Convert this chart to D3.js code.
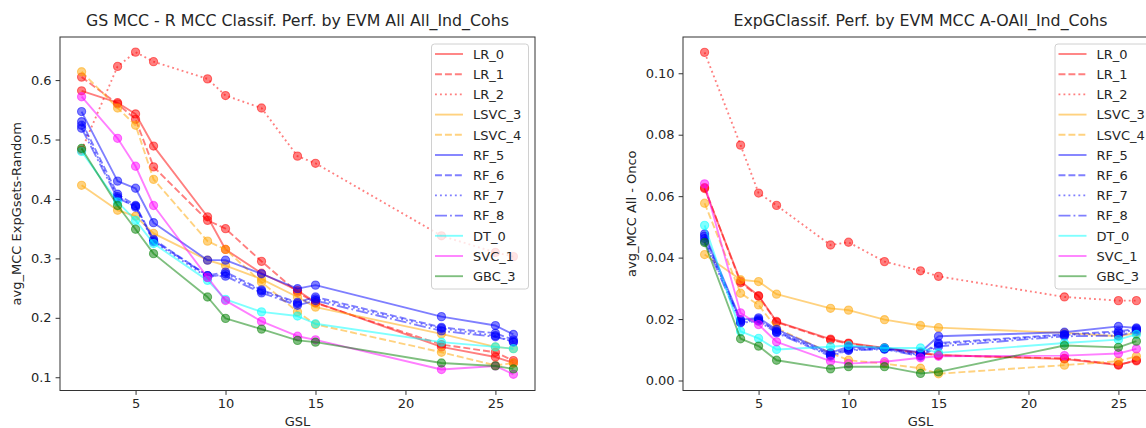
<!DOCTYPE html>
<html><head><meta charset="utf-8">
<script src="https://cdn.jsdelivr.net/npm/d3@7"></script>
<style>body{margin:0;background:#fff;} svg{display:block;} text{font-family:"DejaVu Sans",sans-serif;fill:#262626;}</style>
</head><body><svg id="c" width="1146" height="428"></svg>
<script>
const gsl = [2,4,5,6,9,10,12,14,15,22,25,26];
const seriesNames = ["LR_0","LR_1","LR_2","LSVC_3","LSVC_4","RF_5","RF_6","RF_7","RF_8","DT_0","SVC_1","GBC_3"];
const seriesColors = ["red","red","red","orange","orange","blue","blue","blue","blue","cyan","magenta","green"];
const seriesDash = ["solid","dashed","dotted","solid","dashed","solid","dashed","dotted","dashdot","solid","solid","solid"];

// Left panel: avg_MCC ExpGsets-Random
const leftLR_0   = [0.582,0.562,0.543,0.489,0.370,0.315,0.275,0.246,0.226,0.151,0.134,0.124];
const leftLR_1   = [0.605,0.560,0.534,0.454,0.364,0.350,0.295,0.243,0.225,0.155,0.142,0.128];
const leftLR_2   = [0.482,0.623,0.647,0.631,0.602,0.574,0.553,0.472,0.460,0.338,0.310,0.303];
const leftLSVC_3 = [0.423,0.381,0.371,0.342,0.297,0.288,0.265,0.235,0.218,0.173,0.151,0.148];
const leftLSVC_4 = [0.614,0.553,0.524,0.433,0.329,0.315,0.260,0.210,0.189,0.142,0.120,0.124];
const leftRF_5   = [0.547,0.430,0.418,0.360,0.297,0.297,0.274,0.249,0.255,0.202,0.187,0.172];
const leftRF_6   = [0.530,0.408,0.389,0.332,0.271,0.277,0.247,0.226,0.235,0.184,0.174,0.163];
const leftRF_7   = [0.524,0.404,0.386,0.328,0.268,0.274,0.245,0.224,0.232,0.182,0.170,0.159];
const leftRF_8   = [0.519,0.401,0.388,0.330,0.271,0.270,0.242,0.221,0.229,0.178,0.168,0.160];
const leftDT_0   = [0.480,0.395,0.364,0.325,0.263,0.231,0.210,0.203,0.190,0.159,0.151,0.148];
const leftSVC_1  = [0.572,0.502,0.455,0.389,0.268,0.229,0.194,0.169,0.163,0.113,0.119,0.105];
const leftGBC_3  = [0.485,0.389,0.349,0.308,0.235,0.199,0.181,0.162,0.159,0.124,0.119,0.114];

// Right panel: avg_MCC All - Onco
const rightLR_0   = [0.0625,0.0323,0.0276,0.0192,0.0135,0.0122,0.0106,0.0090,0.0083,0.0070,0.0050,0.0066];
const rightLR_1   = [0.0628,0.0318,0.0274,0.0190,0.0132,0.0120,0.0105,0.0088,0.0082,0.0072,0.0052,0.0064];
const rightLR_2   = [0.1068,0.0766,0.0610,0.0570,0.0441,0.0450,0.0387,0.0357,0.0339,0.0272,0.0260,0.0260];
const rightLSVC_3 = [0.0410,0.0328,0.0322,0.0281,0.0235,0.0229,0.0198,0.0179,0.0172,0.0155,0.0144,0.0155];
const rightLSVC_4 = [0.0577,0.0284,0.0246,0.0170,0.0090,0.0066,0.0055,0.0040,0.0022,0.0050,0.0063,0.0079];
const rightRF_5   = [0.0477,0.0198,0.0204,0.0166,0.0090,0.0110,0.0106,0.0092,0.0144,0.0157,0.0176,0.0171];
const rightRF_6   = [0.0470,0.0194,0.0200,0.0160,0.0085,0.0104,0.0104,0.0085,0.0122,0.0150,0.0160,0.0168];
const rightRF_7   = [0.0462,0.0190,0.0196,0.0158,0.0082,0.0100,0.0103,0.0082,0.0118,0.0148,0.0155,0.0165];
const rightRF_8   = [0.0453,0.0188,0.0193,0.0155,0.0079,0.0098,0.0102,0.0079,0.0111,0.0144,0.0146,0.0160];
const rightDT_0   = [0.0505,0.0160,0.0137,0.0101,0.0110,0.0114,0.0106,0.0106,0.0090,0.0122,0.0133,0.0150];
const rightSVC_1  = [0.0640,0.0220,0.0182,0.0126,0.0063,0.0055,0.0061,0.0074,0.0079,0.0081,0.0088,0.0103];
const rightGBC_3  = [0.0449,0.0136,0.0112,0.0066,0.0038,0.0045,0.0045,0.0023,0.0028,0.0114,0.0108,0.0128];

const xTicks = [5,10,15,20,25];
const leftYTicks = [0.1,0.2,0.3,0.4,0.5,0.6];
const rightYTicks = [0.00,0.02,0.04,0.06,0.08,0.10];

const leftTitle = "GS MCC - R MCC Classif. Perf. by EVM All All_Ind_Cohs";
const rightTitle = "ExpGClassif. Perf. by EVM MCC A-OAll_Ind_Cohs";
const leftYLabel = "avg_MCC ExpGsets-Random";
const rightYLabel = "avg_MCC All - Onco";
const xLabel = "GSL";

const leftData = [leftLR_0,leftLR_1,leftLR_2,leftLSVC_3,leftLSVC_4,leftRF_5,leftRF_6,leftRF_7,leftRF_8,leftDT_0,leftSVC_1,leftGBC_3];
const rightData = [rightLR_0,rightLR_1,rightLR_2,rightLSVC_3,rightLSVC_4,rightRF_5,rightRF_6,rightRF_7,rightRF_8,rightDT_0,rightSVC_1,rightGBC_3];

const svg = d3.select("#c");
const LW = 1.875;
const FS = "13px";
const dashMap = {solid:null, dashed:[3.7*LW,1.6*LW].join(","), dotted:[1*LW,1.65*LW].join(","), dashdot:[6.4*LW,1.6*LW,1*LW,1.6*LW].join(",")};

function panel(opt){
  const {x0,x1,y0,y1,ydom,data,yticks,fmt,title,ylabel,ylabelX,legendX,id} = opt;
  const g = svg.append("g");
  const x = d3.scaleLinear().domain([0.8,27.2]).range([x0,x1]);
  const y = d3.scaleLinear().domain(ydom).range([y1,y0]);
  g.append("defs").append("clipPath").attr("id",id).append("rect")
    .attr("x",x0).attr("y",y0).attr("width",x1-x0).attr("height",y1-y0);
  const plot = g.append("g").attr("clip-path",`url(#${id})`);
  const line = d3.line().x((d,i)=>x(gsl[i])).y(d=>y(d));
  data.forEach((vals,k)=>{
    const col = seriesColors[k];
    plot.append("path").datum(vals).attr("d",line)
      .attr("fill","none").attr("stroke",col).attr("stroke-opacity",0.5)
      .attr("stroke-width",LW).attr("stroke-dasharray",dashMap[seriesDash[k]])
      .attr("stroke-linejoin","round");
    plot.append("g").selectAll("circle").data(vals).join("circle")
      .attr("cx",(d,i)=>x(gsl[i])).attr("cy",d=>y(d)).attr("r",4.1)
      .attr("fill",col).attr("fill-opacity",0.5)
      .attr("stroke",col).attr("stroke-opacity",0.5).attr("stroke-width",1.1);
  });
  const xa = g.append("g").attr("transform",`translate(0,${y1})`)
    .call(d3.axisBottom(x).tickValues(xTicks).tickSize(4.4).tickPadding(4).tickFormat(d3.format("d")));
  const ya = g.append("g").attr("transform",`translate(${x0},0)`)
    .call(d3.axisLeft(y).tickValues(yticks).tickSize(4.4).tickPadding(4).tickFormat(d3.format(fmt)));
  [xa,ya].forEach(a=>{
    a.select(".domain").remove();
    a.selectAll("line").attr("stroke","#333").attr("stroke-width",1);
    a.selectAll("text").attr("font-size",FS).attr("font-family","DejaVu Sans").attr("fill","#262626");
  });
  g.append("rect").attr("x",x0).attr("y",y0).attr("width",x1-x0).attr("height",y1-y0)
    .attr("fill","none").attr("stroke","#333").attr("stroke-width",1);
  g.append("text").attr("x",(x0+x1)/2).attr("y",25.5).attr("text-anchor","middle")
    .attr("font-size","15.8px").text(title);
  g.append("text").attr("x",(x0+x1)/2).attr("y",426).attr("text-anchor","middle")
    .attr("font-size",FS).text(xLabel);
  g.append("text").attr("transform",`translate(${ylabelX},${(y0+y1)/2}) rotate(-90)`)
    .attr("text-anchor","middle").attr("font-size",FS).text(ylabel);
  const lg = g.append("g");
  lg.append("rect").attr("x",legendX).attr("y",44).attr("width",97).attr("height",245)
    .attr("rx",3).attr("fill","white").attr("fill-opacity",0.8).attr("stroke","#d0d0d0").attr("stroke-width",1);
  seriesNames.forEach((nm,k)=>{
    const yy = 54 + k*20.2;
    lg.append("line").attr("x1",legendX+3.5).attr("x2",legendX+31.5).attr("y1",yy).attr("y2",yy)
      .attr("stroke",seriesColors[k]).attr("stroke-opacity",0.5).attr("stroke-width",LW)
      .attr("stroke-dasharray",dashMap[seriesDash[k]]);
    lg.append("text").attr("x",legendX+41.5).attr("y",yy+4.7).attr("font-size",FS).text(nm);
  });
}

panel({x0:60,x1:535,y0:37,y1:390.5,ydom:[0.0777,0.6725],data:leftData,yticks:leftYTicks,fmt:".1f",
  title:leftTitle,ylabel:leftYLabel,ylabelX:21,legendX:431.5,id:"clipL"});
panel({x0:683,x1:1158,y0:37,y1:390.5,ydom:[-0.00325,0.1118],data:rightData,yticks:rightYTicks,fmt:".2f",
  title:rightTitle,ylabel:rightYLabel,ylabelX:636,legendX:1055,id:"clipR"});
</script></body></html>
